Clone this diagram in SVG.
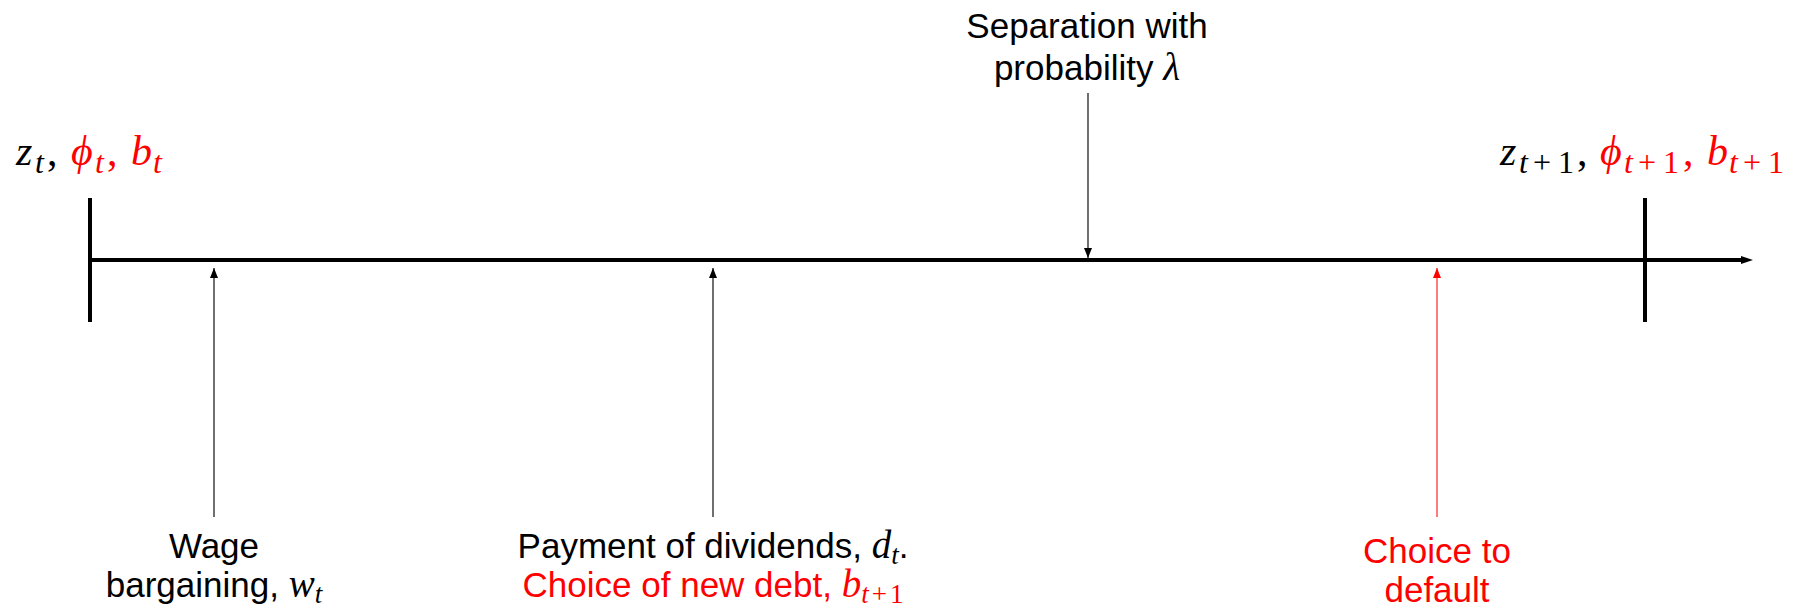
<svg xmlns="http://www.w3.org/2000/svg" width="1807" height="612" viewBox="0 0 1807 612">
<defs>
<style>
.t{font-family:"Liberation Sans","DejaVu Sans",sans-serif;font-size:35px;fill:#000;text-anchor:middle}
.m{font-family:"Liberation Serif",serif;font-style:italic;font-size:42px;fill:#000}
.ms{font-family:"Liberation Serif",serif;font-style:italic;font-size:32px;fill:#000}
.r{font-family:"Liberation Serif",serif;font-style:normal;font-size:32px;fill:#000}
.rc{font-family:"Liberation Serif",serif;font-style:normal;font-size:42px;fill:#000}
.mi{font-family:"Liberation Serif",serif;font-style:italic;font-size:39px}
.si{font-family:"Liberation Serif",serif;font-style:italic;font-size:27px}
.sr{font-family:"Liberation Serif",serif;font-style:normal;font-size:27px}
.red{fill:#ff0000}
.thick{stroke:#000;stroke-width:4;fill:none}
.thin{stroke:#222;stroke-width:1.3;fill:none}
.thinr{stroke:#ff5a5a;stroke-width:1.6;fill:none}
</style>
<marker id="ah" viewBox="0 0 10 8" refX="10" refY="4" markerWidth="10" markerHeight="8" markerUnits="userSpaceOnUse" orient="auto"><path d="M0,0 L10,4 L0,8 Z" fill="#000"/></marker>
<marker id="ahr" viewBox="0 0 10 8" refX="10" refY="4" markerWidth="10" markerHeight="8" markerUnits="userSpaceOnUse" orient="auto"><path d="M0,0 L10,4 L0,8 Z" fill="#ff0000"/></marker>
</defs>
<rect width="1807" height="612" fill="#fff"/>
<g id="axis">
<line class="thick" x1="90" y1="260" x2="1745" y2="260"/>
<path d="M1741,256 L1753,260 L1741,264 Z" fill="#000"/>
<line class="thick" x1="90" y1="198" x2="90" y2="322"/>
<line class="thick" x1="1645" y1="198" x2="1645" y2="322"/>
</g>
<g id="connectors">
<line class="thin" x1="214" y1="517" x2="214" y2="268" marker-end="url(#ah)"/>
<line class="thin" x1="713" y1="517" x2="713" y2="268" marker-end="url(#ah)"/>
<line class="thin" x1="1088" y1="93" x2="1088" y2="258" marker-end="url(#ah)"/>
<line class="thinr" x1="1437" y1="517" x2="1437" y2="268" marker-end="url(#ahr)"/>
</g>
<g id="start-label">
<text class="m" x="16" y="165">z</text>
<text class="ms" x="35" y="173">t</text>
<text class="rc" x="47" y="165">,</text>
<text class="m red" x="71" y="165">ϕ</text>
<text class="ms red" x="95" y="173">t</text>
<text class="rc red" x="107" y="165">,</text>
<text class="m red" x="131" y="165">b</text>
<text class="ms red" x="153" y="173">t</text>
</g>
<g id="end-label">
<text class="m" x="1500" y="165">z</text>
<text class="ms" x="1519" y="173">t</text>
<text class="r" x="1533" y="173">+</text>
<text class="r" x="1558" y="173">1</text>
<text class="rc" x="1577" y="165">,</text>
<text class="m red" x="1600" y="165">ϕ</text>
<text class="ms red" x="1624" y="173">t</text>
<text class="r red" x="1638" y="173">+</text>
<text class="r red" x="1663" y="173">1</text>
<text class="rc red" x="1683" y="165">,</text>
<text class="m red" x="1707" y="165">b</text>
<text class="ms red" x="1729" y="173">t</text>
<text class="r red" x="1743" y="173">+</text>
<text class="r red" x="1768" y="173">1</text>
</g>
<g id="separation">
<text class="t" x="1087" y="38">Separation with</text>
<text class="t" x="1087" y="80">probability <tspan class="mi">λ</tspan></text>
</g>
<g id="wage">
<text class="t" x="214" y="558">Wage</text>
<text class="t" x="214" y="597">bargaining, <tspan class="mi">w</tspan><tspan class="si" dy="6">t</tspan></text>
</g>
<g id="payment">
<text class="t" x="713" y="558">Payment of dividends, <tspan class="mi">d</tspan><tspan class="si" dy="6">t</tspan><tspan dy="-6">.</tspan></text>
<text class="t red" x="713" y="597">Choice of new debt, <tspan class="mi">b</tspan><tspan class="si" dy="6">t</tspan><tspan class="sr" dx="3">+</tspan><tspan class="sr" dx="3">1</tspan></text>
</g>
<g id="default">
<text class="t red" x="1437" y="563">Choice to</text>
<text class="t red" x="1437" y="602">default</text>
</g>
</svg>
